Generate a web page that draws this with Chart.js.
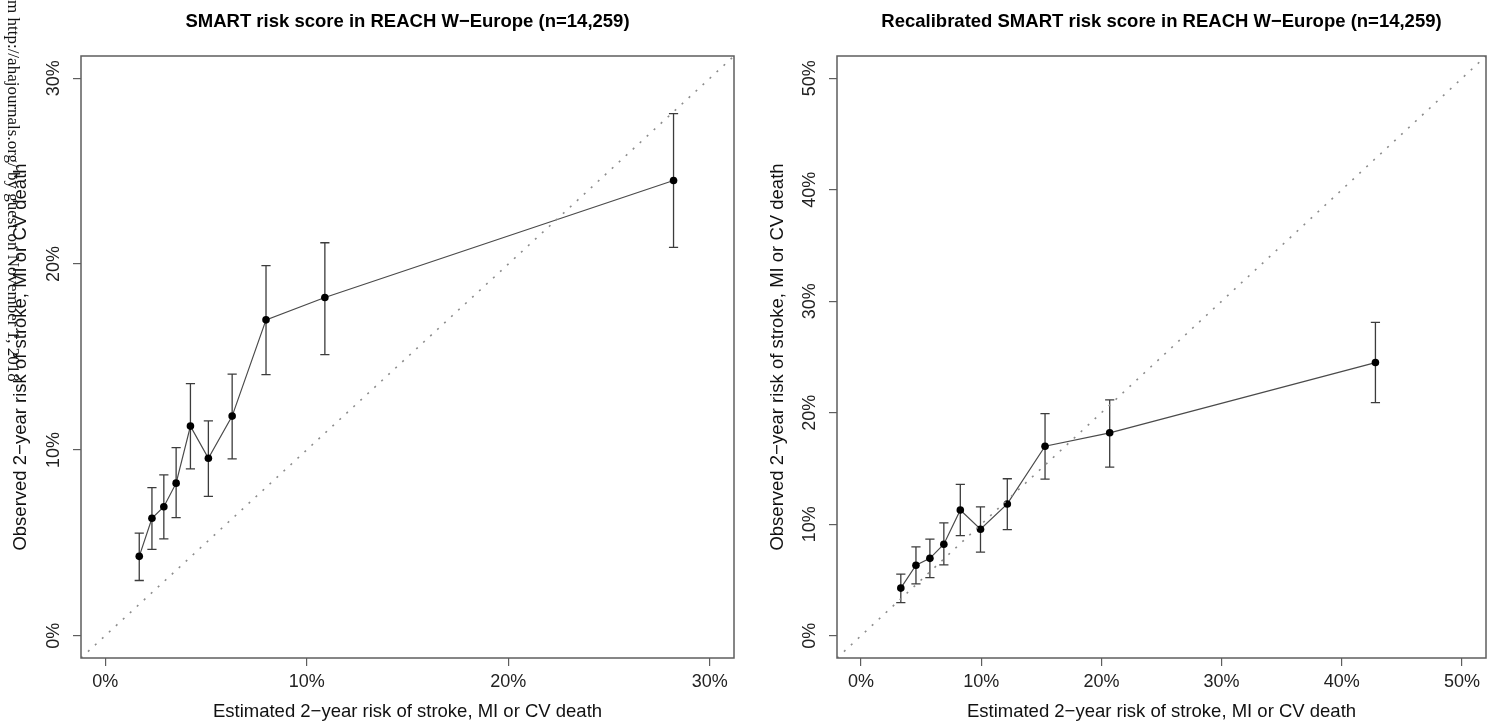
<!DOCTYPE html>
<html>
<head>
<meta charset="utf-8">
<script src="https://cdn.jsdelivr.net/npm/chart.js@4.4.1/dist/chart.umd.min.js"></script>
<style>
  html, body { margin: 0; padding: 0; background: #fff; overflow: hidden; }
  #wrap { position: relative; width: 1489px; height: 725px; overflow: hidden; }
  canvas { position: absolute; top: 0; }
  #left { left: 0; }
  #right { left: 745px; }
  #stamp { position: absolute; left: 22px; top: 0; transform-origin: 0 0; transform: rotate(90deg);
           font: 17px "Liberation Serif", serif; line-height: 18px; white-space: nowrap; color: #111; }
</style>
</head>
<body>
<div id="wrap">
  <canvas id="left" width="745" height="725"></canvas>
  <canvas id="right" width="745" height="725"></canvas>
  <div id="stamp">m http://ahajournals.org/ by guest on November 1, 2018</div>
</div>
<script>
// estimated risk (%) per risk group, original and recalibrated model
const estOriginal = [1.69, 2.32, 2.91, 3.52, 4.23, 5.12, 6.30, 7.98, 10.9, 28.2];
const estRecal = [3.31, 4.57, 5.73, 6.89, 8.26, 9.94, 12.17, 15.31, 20.69, 42.8];
// observed risk (%) with 95% CI, same groups in both panels
const observed = [4.27, 6.32, 6.94, 8.21, 11.28, 9.55, 11.82, 17.0, 18.2, 24.5];
const ciLow = [2.97, 4.65, 5.21, 6.35, 8.98, 7.50, 9.52, 14.05, 15.13, 20.9];
const ciHigh = [5.52, 7.97, 8.66, 10.12, 13.57, 11.56, 14.08, 19.92, 21.15, 28.1];

const ticksOriginal = [0, 10, 20, 30];
const ticksRecal = [0, 10, 20, 30, 40, 50];

const SANS = "'Liberation Sans', Arial, sans-serif";
const GREY = '#5e5e5e';
const xTitle = 'Estimated 2\u2212year risk of stroke, MI or CV death';
const yTitle = 'Observed 2\u2212year risk of stroke, MI or CV death';

const errorBars = {
  id: 'errorBars',
  beforeDatasetsDraw(chart, args, opts) {
    const { ctx, scales: { x, y } } = chart;
    ctx.save();
    ctx.strokeStyle = '#3c3c3c';
    ctx.lineWidth = 1.3;
    opts.xs.forEach((v, i) => {
      const px = x.getPixelForValue(v);
      const top = y.getPixelForValue(ciHigh[i]);
      const bot = y.getPixelForValue(ciLow[i]);
      ctx.beginPath();
      ctx.moveTo(px, top); ctx.lineTo(px, bot);
      ctx.moveTo(px - 4.6, top); ctx.lineTo(px + 4.6, top);
      ctx.moveTo(px - 4.6, bot); ctx.lineTo(px + 4.6, bot);
      ctx.stroke();
    });
    ctx.restore();
  }
};

const frame = {
  id: 'frame',
  afterDraw(chart) {
    const { ctx, chartArea: a } = chart;
    ctx.save();
    ctx.strokeStyle = GREY;
    ctx.lineWidth = 1.5;
    ctx.strokeRect(a.left, a.top, a.right - a.left, a.bottom - a.top);
    ctx.restore();
  }
};

function makePanel(id, title, xs, ticks, yWidth, yTitlePad, rightPad) {
  const top = ticks[ticks.length - 1];
  const lim = [-top * 0.04, top * 1.04];
  const tickFont = { family: SANS, size: 18 };
  const axisFont = { family: SANS, size: 18.5 };
  const pct = v => v + '%';
  const setTicks = s => { s.ticks = ticks.map(v => ({ value: v })); };

  return new Chart(document.getElementById(id), {
    type: 'scatter',
    data: {
      datasets: [
        {
          data: [{ x: lim[0], y: lim[0] }, { x: lim[1], y: lim[1] }],
          showLine: true, borderColor: '#8c8c8c', borderWidth: 1.6,
          borderDash: [2, 7.5], pointRadius: 0
        },
        {
          data: xs.map((v, i) => ({ x: v, y: observed[i] })),
          showLine: true, borderColor: '#4a4a4a', borderWidth: 1.2,
          pointRadius: 3.8, pointBackgroundColor: '#000', pointBorderWidth: 0
        }
      ]
    },
    options: {
      responsive: false,
      animation: false,
      events: [],
      layout: { padding: { top: 0, left: 0, bottom: 0, right: rightPad } },
      plugins: {
        legend: { display: false },
        tooltip: { enabled: false },
        title: {
          display: true, text: title, fullSize: false, color: '#000',
          font: { family: SANS, size: 18.5, weight: 'bold' },
          padding: { top: 11, bottom: 22.8 }
        },
        errorBars: { xs }
      },
      scales: {
        x: {
          type: 'linear', min: lim[0], max: lim[1],
          afterBuildTicks: setTicks,
          afterFit: s => { s.height = 67; },
          ticks: { callback: pct, color: '#222', font: tickFont, padding: 5, maxRotation: 0, autoSkip: false },
          grid: { drawOnChartArea: false, tickLength: 8, color: GREY, lineWidth: 1.2 },
          border: { display: false },
          title: { display: true, text: xTitle, color: '#111', font: axisFont, padding: { top: 0, bottom: 2 } }
        },
        y: {
          type: 'linear', min: lim[0], max: lim[1],
          afterBuildTicks: setTicks,
          afterFit: s => { s.width = yWidth; },
          ticks: {
            callback: pct, color: '#222', font: tickFont, padding: 1,
            minRotation: 90, maxRotation: 90, crossAlign: 'center', autoSkip: false
          },
          grid: { drawOnChartArea: false, tickLength: 8, color: GREY, lineWidth: 1.2 },
          border: { display: false },
          title: { display: true, text: yTitle, color: '#111', font: axisFont, padding: { top: yTitlePad, bottom: 0 } }
        }
      }
    },
    plugins: [errorBars, frame]
  });
}

makePanel('left', 'SMART risk score in REACH W\u2212Europe (n=14,259)', estOriginal, ticksOriginal, 81, 10, 11);
makePanel('right', 'Recalibrated SMART risk score in REACH W\u2212Europe (n=14,259)', estRecal, ticksRecal, 92, 22, 0);
</script>
</body>
</html>
